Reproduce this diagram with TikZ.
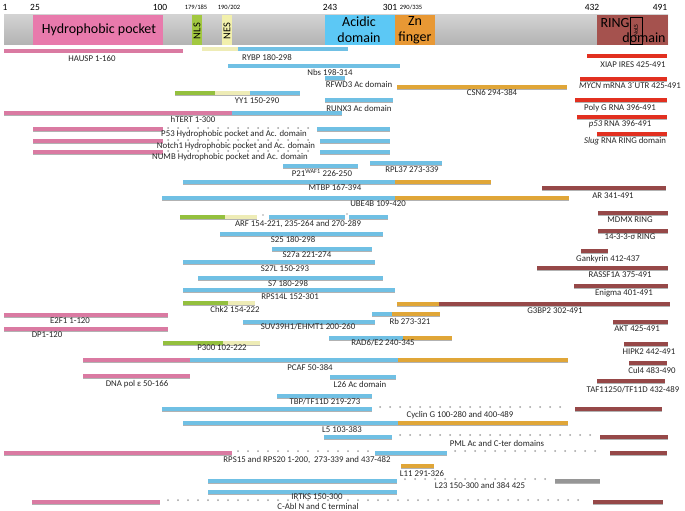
\documentclass[tikz,border=0pt]{standalone}
\usepackage{fontspec}
\setmainfont{Carlito}
\definecolor{barpink}{RGB}{218,122,162}
\definecolor{barblue}{RGB}{112,192,228}
\definecolor{barorange}{RGB}{224,166,56}
\definecolor{barbrown}{RGB}{150,72,72}
\definecolor{barred}{RGB}{226,48,32}
\definecolor{bargreen}{RGB}{148,192,62}
\definecolor{baryellow}{RGB}{238,236,182}
\definecolor{bargray}{RGB}{150,150,150}
\definecolor{hdrpink}{RGB}{232,122,172}
\definecolor{hdrblue}{RGB}{92,200,245}
\definecolor{hdrorange}{RGB}{232,152,52}
\definecolor{hdrbrown}{RGB}{165,82,78}
\definecolor{hdrgreen}{RGB}{162,200,64}
\definecolor{hdryellow}{RGB}{242,240,172}
\begin{document}
\begin{tikzpicture}
		[x=1pt, y=-1pt,
		bar/.style={line width=3.4pt,
			preaction={draw=black!30, line width=3.4pt, transform canvas={yshift=-0.8pt}}},
		pinkbar/.style={bar, draw=barpink},
		bluebar/.style={bar, draw=barblue},
		orangebar/.style={bar, draw=barorange},
		brownbar/.style={bar, draw=barbrown},
		redbar/.style={bar, draw=barred},
		greenbar/.style={bar, draw=bargreen},
		yellowbar/.style={bar, draw=baryellow},
		graybar/.style={bar, draw=bargray},
		dotrun/.style={draw=gray!75, line width=2pt, line cap=round, dash pattern=on 0pt off 10pt},
		lbl/.style={inner sep=0pt, text=black!85, font=\fontsize{8.8}{9}\selectfont},
		num/.style={inner sep=0pt, font=\fontsize{9.5}{10}\selectfont},
		smallnum/.style={inner sep=0pt, font=\fontsize{6.5}{7}\selectfont},
		domtext/.style={inner sep=0pt, align=center, font=\fontsize{14}{16}\selectfont},
		sidetext/.style={inner sep=0pt, rotate=90, font=\fontsize{10.5}{11}\selectfont}]
		\useasboundingbox (0,0) rectangle (685,511);
		% protein map
		\shade[top color=gray!35, bottom color=gray!60] (4,15) rectangle (668,45);
		\fill[hdrpink] (33,15) rectangle (163,45);
		\node[domtext] (pocket) at (99,30) {Hydrophobic pocket};
		\fill[hdrgreen] (192,15) rectangle (202,45);
		\node[sidetext] (nls) at (197,31) {NLS};
		\fill[hdryellow] (222,15) rectangle (232,45);
		\node[sidetext] (nes) at (227,31) {NES};
		\fill[hdrblue] (325,15) rectangle (395,45);
		\node[domtext] (acidic) at (359,30) {Acidic\\domain};
		\fill[hdrorange] (395,15) rectangle (435,45);
		\node[domtext] (zinc) at (415,30) {Zn\\finger};
		\fill[hdrbrown] (597,15) rectangle (668,45);
		\node[domtext] (ringtop) at (615,23) {RING};
		\node[domtext] (ringbottom) at (644,38) {domain};
		\draw[line width=0.8pt] (630,17) rectangle (642,44);
		\node[inner sep=0pt, rotate=90, font=\fontsize{6}{6}\selectfont] (nols) at (636,30.5) {NoLS};
		\node[num] (r1) at (5,7) {1};
		\node[num] (r25) at (35,7) {25};
		\node[num] (r100) at (160,7) {100};
		\node[smallnum] (r179) at (196,7) {179/185};
		\node[smallnum] (r190) at (229,7) {190/202};
		\node[num] (r243) at (330,7) {243};
		\node[num] (r301) at (390,7) {301};
		\node[smallnum] (r290) at (411,7) {290/335};
		\node[num] (r432) at (592,7) {432};
		\node[num] (r491) at (660,7) {491};
		% partners
		\draw[pinkbar] (4,51) -- (183,51);
		\node[lbl] (hausp) at (92,59) {HAUSP 1-160};
		\draw[yellowbar] (202,49) -- (238,49);
		\draw[bluebar] (238,49) -- (348,49);
		\node[lbl] (rybp) at (267,58) {RYBP 180-298};
		\draw[redbar] (587,56) -- (667,56);
		\node[lbl] (xiap) at (633,65) {XIAP IRES 425-491};
		\draw[bluebar] (228,66) -- (400,66);
		\node[lbl] (nbs) at (330,72) {Nbs 198-314};
		\draw[bluebar] (325,78) -- (345,78);
		\node[lbl] (rfwd) at (359,84) {RFWD3 Ac domain};
		\draw[redbar] (580,79) -- (667,79);
		\node[lbl] (mycn) at (630,86) {\textit{MYCN} mRNA 3´UTR 425-491};
		\draw[orangebar] (397,87) -- (567,87);
		\node[lbl] (csn) at (492,93) {CSN6 294-384};
		\draw[greenbar] (175,93) -- (215,93);
		\draw[yellowbar] (215,93) -- (250,93);
		\draw[bluebar] (250,93) -- (300,93);
		\node[lbl] (yy) at (257,101) {YY1 150-290};
		\draw[bluebar] (325,100) -- (393,100);
		\node[lbl] (runx) at (359,108) {RUNX3 Ac domain};
		\draw[redbar] (575,100) -- (667,100);
		\node[lbl] (polyg) at (620,108) {Poly G RNA 396-491};
		\draw[pinkbar] (4,113) -- (232,113);
		\draw[bluebar] (232,113) -- (342,113);
		\node[lbl] (htert) at (193,119) {hTERT 1-300};
		\draw[redbar] (577,117) -- (667,117);
		\node[lbl] (p53rna) at (620,124) {\textit{p53} RNA 396-491};
		\draw[pinkbar] (33,129) -- (163,129);
		\draw[dotrun] (168,128) -- (312,128);
		\draw[bluebar] (317,129) -- (390,129);
		\node[lbl] (p53) at (234,134) {P53 Hydrophobic pocket and Ac. domain};
		\draw[redbar] (597,134) -- (667,134);
		\node[lbl] (slug) at (625,141) {\textit{Slug} RNA RING domain};
		\draw[pinkbar] (33,141) -- (163,141);
		\draw[dotrun] (168,140) -- (315,140);
		\draw[bluebar] (320,141) -- (390,141);
		\node[lbl] (notch) at (236,146) {Notch1 Hydrophobic pocket and Ac. domain};
		\draw[pinkbar] (33,152) -- (163,152);
		\draw[dotrun] (168,151) -- (315,151);
		\draw[bluebar] (320,152) -- (390,152);
		\node[lbl] (numb) at (230,157) {NUMB Hydrophobic pocket and Ac. domain};
		\draw[bluebar] (283,166) -- (358,166);
		\node[lbl] (p21) at (322,173) {P21\textsuperscript{WAF1} 226-250};
		\draw[bluebar] (370,163) -- (442,163);
		\node[lbl] (rpl37) at (412,170) {RPL37 273-339};
		\draw[bluebar] (183,182) -- (395,182);
		\draw[orangebar] (395,182) -- (491,182);
		\node[lbl] (mtbp) at (335,188) {MTBP 167-394};
		\draw[brownbar] (542,188) -- (666,188);
		\node[lbl] (ar) at (613,196) {AR 341-491};
		\draw[bluebar] (162,198) -- (395,198);
		\draw[orangebar] (395,198) -- (569,198);
		\node[lbl] (ube4b) at (378,204) {UBE4B 109-420};
		\draw[brownbar] (598,213) -- (668,213);
		\node[lbl] (mdmx) at (630,220) {MDMX RING};
		\draw[greenbar] (180,217) -- (225,217);
		\draw[yellowbar] (225,217) -- (257,217);
		\fill[gray!70] (263,215) circle (0.9);
		\draw[bluebar] (269,217) -- (345,217);
		\fill[gray!70] (347,214) circle (0.9);
		\draw[bluebar] (349,217) -- (388,217);
		\node[lbl] (arf) at (298,224) {ARF 154-221, 235-264 and 270-289};
		\draw[brownbar] (598,231) -- (668,231);
		\node[lbl] (sigma) at (630,237) {14-3-3-σ RING};
		\draw[bluebar] (220,234) -- (383,234);
		\node[lbl] (s25) at (293,240) {S25 180-298};
		\draw[bluebar] (272,249) -- (372,249);
		\node[lbl] (s27a) at (307,255) {S27a 221-274};
		\draw[brownbar] (581,251) -- (608,251);
		\node[lbl] (gankyrin) at (608,259) {Gankyrin 412-437};
		\draw[bluebar] (183,262) -- (375,262);
		\node[lbl] (s27l) at (285,269) {S27L 150-293};
		\draw[brownbar] (537,268) -- (668,268);
		\node[lbl] (rassf) at (620,275) {RASSF1A 375-491};
		\draw[bluebar] (198,278) -- (383,278);
		\node[lbl] (s7) at (288,284) {S7 180-298};
		\draw[brownbar] (574,286) -- (668,286);
		\node[lbl] (enigma) at (624,293) {Enigma 401-491};
		\draw[bluebar] (183,290) -- (395,290);
		\node[lbl] (rps14l) at (290,297) {RPS14L 152-301};
		\draw[greenbar] (183,303) -- (228,303);
		\draw[yellowbar] (228,303) -- (255,303);
		\node[lbl] (chk2) at (235,309) {Chk2 154-222};
		\draw[orangebar] (397,304) -- (439,304);
		\draw[brownbar] (439,304) -- (670,304);
		\node[lbl] (g3bp2) at (555,311) {G3BP2 302-491};
		\draw[pinkbar] (4,315) -- (168,315);
		\node[lbl] (e2f1) at (70,321) {E2F1 1-120};
		\draw[bluebar] (372,314) -- (392,314);
		\draw[orangebar] (392,314) -- (440,314);
		\node[lbl] (rb) at (410,321) {Rb 273-321};
		\draw[bluebar] (243,322) -- (375,322);
		\node[lbl] (suv) at (308,327) {SUV39H1/EHMT1 200-260};
		\draw[brownbar] (613,322) -- (668,322);
		\node[lbl] (akt) at (637,329) {AKT 425-491};
		\draw[pinkbar] (4,329) -- (168,329);
		\node[lbl] (dp1) at (47,335) {DP1-120};
		\draw[bluebar] (329,338) -- (403,338);
		\draw[orangebar] (403,338) -- (452,338);
		\node[lbl] (rad6) at (383,343) {RAD6/E2 240-345};
		\draw[greenbar] (163,343) -- (223,343);
		\draw[yellowbar] (223,343) -- (260,343);
		\node[lbl] (p300) at (222,348) {P300 102-222};
		\draw[brownbar] (624,344) -- (668,344);
		\node[lbl] (hipk2) at (649,352) {HIPK2 442-491};
		\draw[pinkbar] (83,360) -- (190,360);
		\draw[bluebar] (190,360) -- (398,360);
		\draw[orangebar] (398,360) -- (568,360);
		\node[lbl] (pcaf) at (310,368) {PCAF 50-384};
		\draw[brownbar] (629,363) -- (667,363);
		\node[lbl] (cul4) at (652,370) {Cul4 483-490};
		\draw[pinkbar] (83,376) -- (190,376);
		\node[lbl] (dnapol) at (137,384) {DNA pol ε 50-166};
		\draw[bluebar] (330,377) -- (396,377);
		\node[lbl] (l26) at (360,384) {L26 Ac domain};
		\draw[brownbar] (597,381) -- (665,381);
		\node[lbl] (taf) at (633,390) {TAF11250/TF11D 432-489};
		\draw[bluebar] (277,396) -- (372,396);
		\node[lbl] (tbp) at (325,402) {TBP/TF11D 219-273};
		\draw[bluebar] (162,409) -- (372,409);
		\draw[dotrun] (380,407) -- (570,407);
		\draw[brownbar] (575,409) -- (662,409);
		\node[lbl] (cycg) at (460,415) {Cyclin G 100-280 and 400-489};
		\draw[bluebar] (183,423) -- (398,423);
		\draw[orangebar] (398,423) -- (568,423);
		\node[lbl] (l5) at (342,430) {L5 103-383};
		\draw[bluebar] (324,437) -- (392,437);
		\draw[dotrun] (400,435) -- (595,435);
		\draw[brownbar] (600,437) -- (668,437);
		\node[lbl] (pml) at (497,443) {PML Ac and C-ter domains};
		\draw[pinkbar] (4,453) -- (232,453);
		\draw[dotrun] (238,451) -- (370,451);
		\draw[bluebar] (375,453) -- (447,453);
		\draw[dotrun] (455,451) -- (605,451);
		\draw[brownbar] (610,453) -- (667,453);
		\node[lbl] (rps15) at (307,460) {RPS15 and RPS20 1-200,\ \ 273-339 and 437-482};
		\draw[orangebar] (401,466) -- (434,466);
		\node[lbl] (l11) at (422,474) {L11 291-326};
		\draw[bluebar] (208,481) -- (397,481);
		\draw[dotrun] (405,479) -- (550,479);
		\draw[graybar] (555,481) -- (600,481);
		\node[lbl] (l23) at (480,485) {L23 150-300 and 384 425};
		\draw[bluebar] (208,492) -- (397,492);
		\node[lbl] (irtks) at (317,497) {IRTKS 150-300};
		\draw[pinkbar] (32,502) -- (160,502);
		\draw[dotrun] (168,500) -- (588,500);
		\draw[brownbar] (593,502) -- (663,502);
		\node[lbl] (cabl) at (318,506) {C-Abl N and C terminal};
	\end{tikzpicture}
\end{document}
